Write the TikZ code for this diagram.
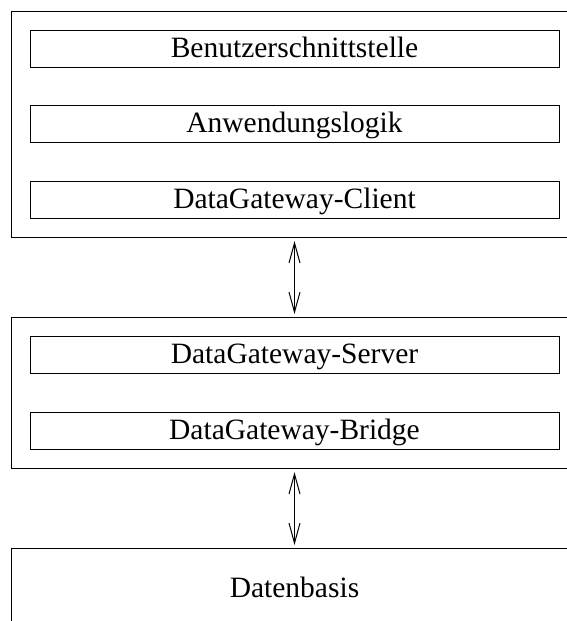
\documentclass[tikz,border=0pt]{standalone}
\usepackage{fontspec}
\setmainfont{Liberation Serif}
\usetikzlibrary{arrows.meta}
\begin{document}
\begin{tikzpicture}[x=1pt,y=-1pt,
  outerbox/.style={draw, line width=1.1pt},
  layer/.style={draw, line width=1pt, inner sep=0pt, minimum width=529pt, minimum height=37pt,
    text height=20pt, text depth=3pt, font=\fontsize{29.5}{34}\selectfont},
  lbl/.style={font=\fontsize{29.5}{34}\selectfont, inner sep=0pt},
  link/.style={line width=1pt, {Straight Barb[length=20pt,width=11pt]}-{Straight Barb[length=20pt,width=11pt]}, shorten <=3pt, shorten >=3pt}]
\useasboundingbox (0,0) rectangle (567,621);
\clip (0,0) rectangle (567,621);
\fill[white] (0,0) rectangle (567,621);
% outer boxes
\node[outerbox, inner sep=0pt, minimum width=589pt, minimum height=226pt, anchor=north west] (o1) at (11,11) {};
\node[outerbox, inner sep=0pt, minimum width=589pt, minimum height=151pt, anchor=north west] (o2) at (11,317) {};
\node[outerbox, inner sep=0pt, minimum width=589pt, minimum height=120pt, anchor=north west] (o3) at (11,548) {};
% inner layers
\node[layer] (b1) at (294.5,48.5) {Benutzerschnittstelle};
\node[layer] (b2) at (294.5,124) {Anwendungslogik};
\node[layer] (b3) at (294.5,199.5) {DataGateway-Client};
\node[layer] (b4) at (294.5,355) {DataGateway-Server};
\node[layer] (b5) at (294.5,431) {DataGateway-Bridge};
\node[lbl, anchor=base] (db) at (294.5,597) {Datenbasis};
% connectors
\draw[link] (b3.center |- o1.south) -- (b3.center |- o2.north);
\draw[link] (b5.center |- o2.south) -- (b5.center |- o3.north);
\end{tikzpicture}
\end{document}
